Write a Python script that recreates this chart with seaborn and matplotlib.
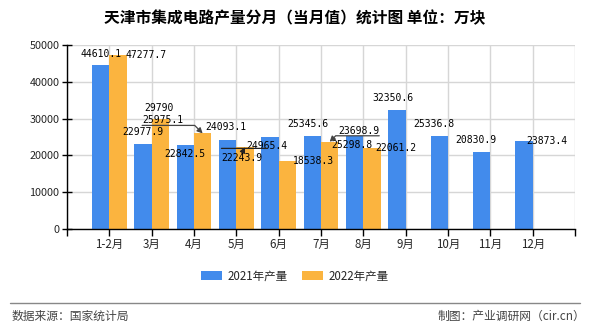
import numpy as np
import pandas as pd
import matplotlib
matplotlib.use("Agg")
import matplotlib.pyplot as plt
import seaborn as sns

categories = ["1-2月", "3月", "4月", "5月", "6月", "7月", "8月", "9月", "10月", "11月", "12月"]
series_names = ["2021年产量", "2022年产量"]
values_2021 = [44610.1, 22977.9, 22842.5, 24093.1, 24965.4, 25345.6, 25298.8, 32350.6, 25336.8, 20830.9, 23873.4]
values_2022 = [47277.7, 29790, 25975.1, 22243.9, 18538.3, 23698.9, 22061.2, np.nan, np.nan, np.nan, np.nan]
y_ticks = [0, 10000, 20000, 30000, 40000, 50000]
title = "天津市集成电路产量分月（当月值）统计图 单位：万块"
source_text = "数据来源：国家统计局"
credit_text = "制图：产业调研网（cir.cn）"

colors = ["#428BEC", "#FBB43F"]

sns.set_theme(style="white")
plt.rcParams["font.family"] = ["Noto Sans CJK SC", "DejaVu Sans"]

rows = []
for name, vals in zip(series_names, [values_2021, values_2022]):
    for c, v in zip(categories, vals):
        if not np.isnan(v):
            rows.append({"月份": c, "系列": name, "产量": v})
df = pd.DataFrame(rows)

fig = plt.figure(figsize=(5.9, 3.3), dpi=100)
ax = fig.add_axes([67 / 590, 1 - 229 / 330, (575 - 67) / 590, (229 - 45) / 330])

sns.barplot(data=df, x="月份", y="产量", hue="系列", order=categories,
            hue_order=series_names, palette=colors, width=0.82, gap=0,
            saturation=1, ax=ax, legend=True, errorbar=None,
            linewidth=0, edgecolor="none")

ax.set_xlim(-1, len(categories))
ax.set_xticks(range(-1, len(categories) + 1))
ax.set_xticklabels([""] + categories + [""], fontsize=8.3)
ax.set_ylim(0, 50000)
ax.set_yticks(y_ticks)
ax.set_yticklabels([str(t) for t in y_ticks], fontsize=7.8)
ax.set_xlabel("")
ax.set_ylabel("")
ax.grid(True, color="#d6d6d6", lw=1)
ax.set_axisbelow(True)
for s in ["top", "right"]:
    ax.spines[s].set_visible(False)
for s in ["left", "bottom"]:
    ax.spines[s].set_color("black")
    ax.spines[s].set_linewidth(1)
ax.tick_params(axis="x", direction="out", length=5, width=1, color="black", pad=1.5, bottom=True)
ax.tick_params(axis="y", direction="inout", length=7, width=1, color="black", pad=2, left=True)

# value labels
offsets_2021 = [(0, 10.8), (-0.6, 12.7), (0, -9), (-2, 13), (-3, -9), (-4, 12),
                (-3, -9), (-4, 12), (-5, 12), (-6, 12), (23, 0)]
offsets_2022 = [(28, 0), (-1.5, 11), (-40, 13), (-3, -11), (26, 0), (29, 11), (24, 0)]
label_font = dict(family="DejaVu Sans Mono", size=7, color="black")

anns = {}
for si, (cont, offs) in enumerate(zip(ax.containers[:2], [offsets_2021, offsets_2022])):
    vals = values_2021 if si == 0 else [v for v in values_2022 if not np.isnan(v)]
    for bi, (bar, off, v) in enumerate(zip(cont, offs, vals)):
        bx = bar.get_x() + bar.get_width() / 2
        by = bar.get_height()
        txt = f"{v:g}" if float(v).is_integer() else f"{v:.1f}"
        arrow = None
        if si == 1 and bi == 2:
            arrow = dict(arrowstyle="-|>", color="#444", lw=0.9, relpos=(0, 0),
                         connectionstyle="angle,angleA=0,angleB=135,rad=0",
                         shrinkA=0, shrinkB=0, mutation_scale=8, patchA=None)
        elif si == 1 and bi == 3:
            arrow = dict(arrowstyle="-|>", color="#222", lw=0.9, relpos=(0.5, 1),
                         shrinkA=0, shrinkB=0, mutation_scale=8, patchA=None)
        elif si == 1 and bi == 5:
            arrow = dict(arrowstyle="-|>", color="#444", lw=0.9, relpos=(1, 0),
                         connectionstyle="angle,angleA=0,angleB=45,rad=0",
                         shrinkA=0, shrinkB=0, mutation_scale=8, patchA=None)
        a = ax.annotate(txt, xy=(bx, by), xytext=off, textcoords="offset pixels",
                        ha="center", va="center", **label_font,
                        arrowprops=arrow, annotation_clip=False)
        anns[(si, bi)] = a

# overline for the 5月 2022 label
ax.annotate("", xy=(1.12, 1), xycoords=anns[(1, 3)], xytext=(0.0, 1),
            textcoords=anns[(1, 3)],
            arrowprops=dict(arrowstyle="-", color="#222", lw=0.9, shrinkA=0, shrinkB=0))

# legend
handles, labels = ax.get_legend_handles_labels()
ax.legend(handles, labels, loc="center", bbox_to_anchor=(295 / 590, 1 - 276 / 330),
          bbox_transform=fig.transFigure, ncol=2, frameon=False, fontsize=8.3,
          handlelength=1.8, handleheight=0.85, handletextpad=0.5, columnspacing=1.3)

fig.text(0.5, 1 - 18 / 330, title, ha="center", va="center", fontsize=11.3,
         fontweight="bold", color="black")
fig.add_artist(plt.Line2D([10 / 590, 580 / 590], [1 - 303 / 330, 1 - 303 / 330],
                          transform=fig.transFigure, color="#888888", lw=1))
fig.text(12 / 590, 1 - 316 / 330, source_text, ha="left", va="center", fontsize=8.5,
         color="#444444")
fig.text(585 / 590, 1 - 316 / 330, credit_text, ha="right", va="center", fontsize=8.5,
         color="#444444")

fig.savefig("out.png", dpi=100, facecolor="white")
